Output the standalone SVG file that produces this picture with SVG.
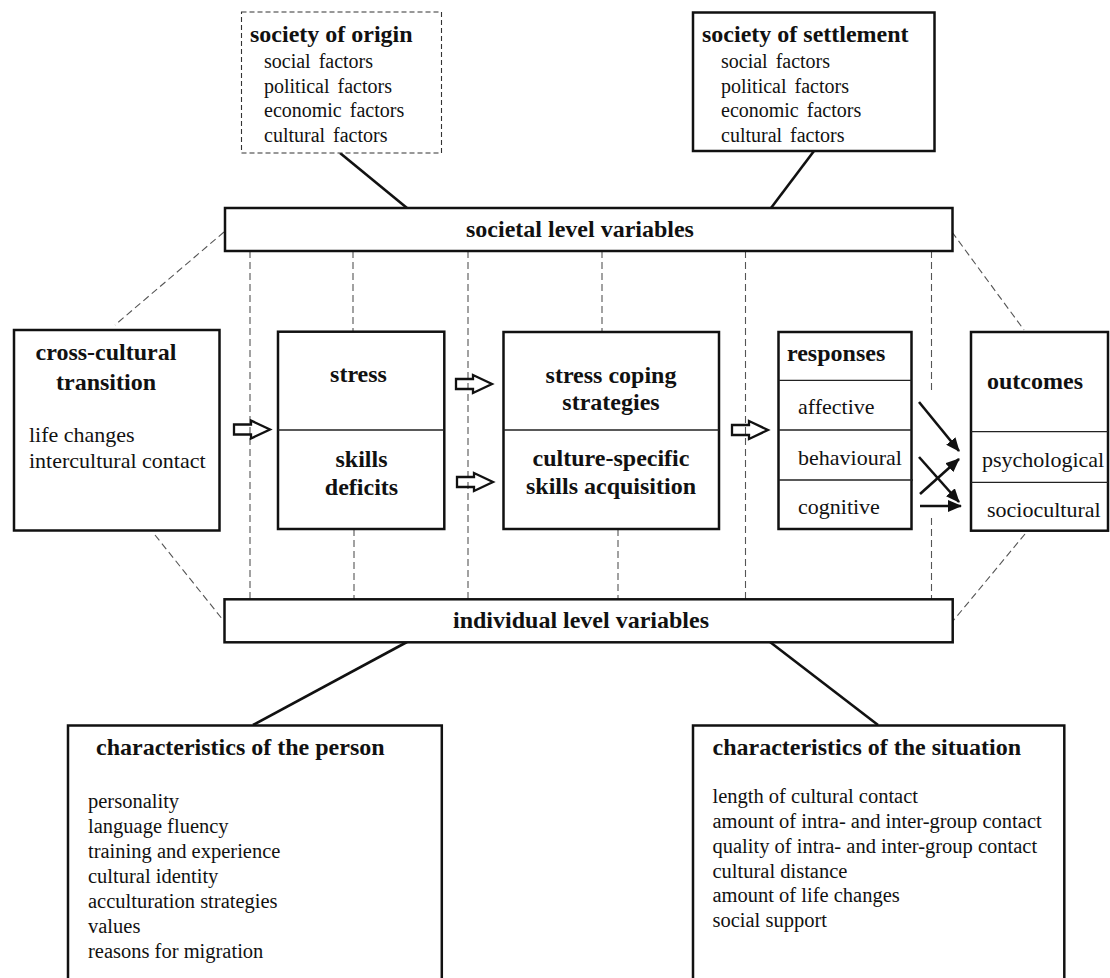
<svg xmlns="http://www.w3.org/2000/svg" xmlns:xlink="http://www.w3.org/1999/xlink" width="1110" height="978" viewBox="0 0 1110 978">
<style>
  .box{fill:#fff;stroke:#111;stroke-width:2.5}
  .div{stroke:#222;stroke-width:1.3;fill:none}
  .hd{font-family:"Liberation Serif","Times New Roman",serif;font-weight:bold;font-size:24px;fill:#111}
  .tx{font-family:"Liberation Serif","Times New Roman",serif;font-size:22px;fill:#111}
  .sm{font-family:"Liberation Serif","Times New Roman",serif;font-size:20px;fill:#111;word-spacing:3px}
  .ls{font-family:"Liberation Serif","Times New Roman",serif;font-size:20.5px;fill:#111}
  .dash{stroke:#555;stroke-width:1.1;stroke-dasharray:7 4;fill:none}
  .conn{stroke:#111;stroke-width:2.6;fill:none}
  .blk{fill:none;stroke:#111;stroke-width:2.3;stroke-linejoin:miter}
  .ar{stroke:#111;stroke-width:2.6;fill:none}
</style>
<defs>
  <path id="blockArrow" d="M0,-5 H17 V-9 L36,0 L17,9 V5 H0 Z"/>
  <marker id="tip" markerUnits="userSpaceOnUse" markerWidth="14" markerHeight="12" viewBox="0 0 14 12" refX="13" refY="6" orient="auto">
    <path d="M0,0 L14,6 L0,12 Z" fill="#111"/>
  </marker>
</defs>
<rect width="1110" height="978" fill="#fff"/>

<g id="guides">
  <line class="dash" x1="224" y1="232" x2="115" y2="325"/>
  <line class="dash" x1="952" y1="232" x2="1024" y2="330"/>
  <line class="dash" x1="155" y1="535" x2="223" y2="620"/>
  <line class="dash" x1="1025" y1="534" x2="953" y2="621"/>
  <line class="dash" x1="250" y1="251" x2="250" y2="599"/>
  <line class="dash" x1="353" y1="251" x2="353" y2="332"/>
  <line class="dash" x1="354" y1="529" x2="354" y2="603"/>
  <line class="dash" x1="468" y1="251" x2="468" y2="599"/>
  <line class="dash" x1="602" y1="251" x2="602" y2="332"/>
  <line class="dash" x1="618" y1="529" x2="618" y2="599"/>
  <line class="dash" x1="745.5" y1="251" x2="745.5" y2="599"/>
  <line class="dash" x1="931.5" y1="251" x2="931.5" y2="394"/>
  <line class="dash" x1="931.5" y1="518" x2="931.5" y2="599"/>
</g>

<g id="connectors">
  <line class="conn" x1="340" y1="153" x2="407" y2="208"/>
  <line class="conn" x1="814" y1="151" x2="771" y2="208"/>
  <line class="conn" x1="407" y1="642" x2="253" y2="725"/>
  <line class="conn" x1="770" y1="642" x2="878" y2="725"/>
  <use href="#blockArrow" class="blk" transform="translate(234,429.5)"/>
  <use href="#blockArrow" class="blk" transform="translate(456,384)"/>
  <use href="#blockArrow" class="blk" transform="translate(457,482)"/>
  <use href="#blockArrow" class="blk" transform="translate(732,430)"/>
  <line class="ar" x1="919" y1="402" x2="959" y2="451" marker-end="url(#tip)"/>
  <line class="ar" x1="919" y1="457" x2="959" y2="502" marker-end="url(#tip)"/>
  <line class="ar" x1="920" y1="494" x2="959" y2="459" marker-end="url(#tip)"/>
  <line class="ar" x1="920" y1="506" x2="961" y2="506" marker-end="url(#tip)"/>
</g>

<g id="society-origin">
  <rect x="241.5" y="12" width="200" height="141" fill="#fff" stroke="#333" stroke-width="1.1" stroke-dasharray="5 3"/>
  <text class="hd" x="250" y="42">society of origin</text>
  <text class="sm" x="264" y="68">social factors</text>
  <text class="sm" x="264" y="93">political factors</text>
  <text class="sm" x="264" y="117">economic factors</text>
  <text class="sm" x="264" y="142">cultural factors</text>
</g>

<g id="society-settlement">
  <rect class="box" x="693" y="12.5" width="241.5" height="138.5"/>
  <text class="hd" x="702" y="42">society of settlement</text>
  <text class="sm" x="721" y="68">social factors</text>
  <text class="sm" x="721" y="93">political factors</text>
  <text class="sm" x="721" y="117">economic factors</text>
  <text class="sm" x="721" y="142">cultural factors</text>
</g>

<g id="societal-level">
  <rect class="box" x="225" y="208" width="727.5" height="43"/>
  <text class="hd" x="580" y="237" text-anchor="middle">societal level variables</text>
</g>

<g id="cross-cultural-transition">
  <rect class="box" x="14" y="330" width="205.5" height="200.5"/>
  <text class="hd" x="106" y="360" text-anchor="middle">cross-cultural</text>
  <text class="hd" x="106" y="390" text-anchor="middle">transition</text>
  <text class="tx" x="29" y="442">life changes</text>
  <text class="tx" x="29" y="468">intercultural contact</text>
</g>

<g id="stress-skills">
  <rect class="box" x="278" y="331.7" width="166.3" height="197.3"/>
  <line class="div" x1="278" y1="430" x2="444.3" y2="430"/>
  <text class="hd" x="358.5" y="382" text-anchor="middle">stress</text>
  <text class="hd" x="361.5" y="466.5" text-anchor="middle">skills</text>
  <text class="hd" x="361.5" y="495" text-anchor="middle">deficits</text>
</g>

<g id="coping-acquisition">
  <rect class="box" x="503.5" y="332" width="215.5" height="197"/>
  <line class="div" x1="503.5" y1="430" x2="719" y2="430"/>
  <text class="hd" x="611" y="383" text-anchor="middle">stress coping</text>
  <text class="hd" x="611" y="410" text-anchor="middle">strategies</text>
  <text class="hd" x="611" y="466" text-anchor="middle">culture-specific</text>
  <text class="hd" x="611" y="494" text-anchor="middle">skills acquisition</text>
</g>

<g id="responses">
  <rect class="box" x="778.5" y="332" width="133" height="197"/>
  <line class="div" x1="778.5" y1="380.3" x2="911.5" y2="380.3"/>
  <line class="div" x1="778.5" y1="430" x2="911.5" y2="430"/>
  <line class="div" x1="778.5" y1="480" x2="913" y2="480"/>
  <text class="hd" x="787" y="361">responses</text>
  <text class="tx" x="798" y="414">affective</text>
  <text class="tx" x="798" y="464.5">behavioural</text>
  <text class="tx" x="798" y="514">cognitive</text>
</g>

<g id="outcomes">
  <rect class="box" x="971" y="332" width="137" height="198.7"/>
  <line class="div" x1="971" y1="431.7" x2="1108" y2="431.7"/>
  <line class="div" x1="971" y1="482.3" x2="1108" y2="482.3"/>
  <text class="hd" x="987" y="389">outcomes</text>
  <text class="tx" x="982" y="466.5">psychological</text>
  <text class="tx" x="987" y="517">sociocultural</text>
</g>

<g id="individual-level">
  <rect class="box" x="224.5" y="599.3" width="728.2" height="43"/>
  <text class="hd" x="581" y="628" text-anchor="middle">individual level variables</text>
</g>

<g id="person">
  <rect class="box" x="68" y="725.5" width="373.8" height="280"/>
  <text class="hd" x="96" y="755">characteristics of the person</text>
  <text class="ls" x="88" y="808">personality</text>
  <text class="ls" x="88" y="833">language fluency</text>
  <text class="ls" x="88" y="858">training and experience</text>
  <text class="ls" x="88" y="883">cultural identity</text>
  <text class="ls" x="88" y="908">acculturation strategies</text>
  <text class="ls" x="88" y="933">values</text>
  <text class="ls" x="88" y="958">reasons for migration</text>
</g>

<g id="situation">
  <rect class="box" x="693" y="725.5" width="371.3" height="280"/>
  <text class="hd" x="712.5" y="755">characteristics of the situation</text>
  <text class="ls" x="712.5" y="803">length of cultural contact</text>
  <text class="ls" x="712.5" y="828">amount of intra- and inter-group contact</text>
  <text class="ls" x="712.5" y="853">quality of intra- and inter-group contact</text>
  <text class="ls" x="712.5" y="877.5">cultural distance</text>
  <text class="ls" x="712.5" y="902">amount of life changes</text>
  <text class="ls" x="712.5" y="927">social support</text>
</g>
</svg>
